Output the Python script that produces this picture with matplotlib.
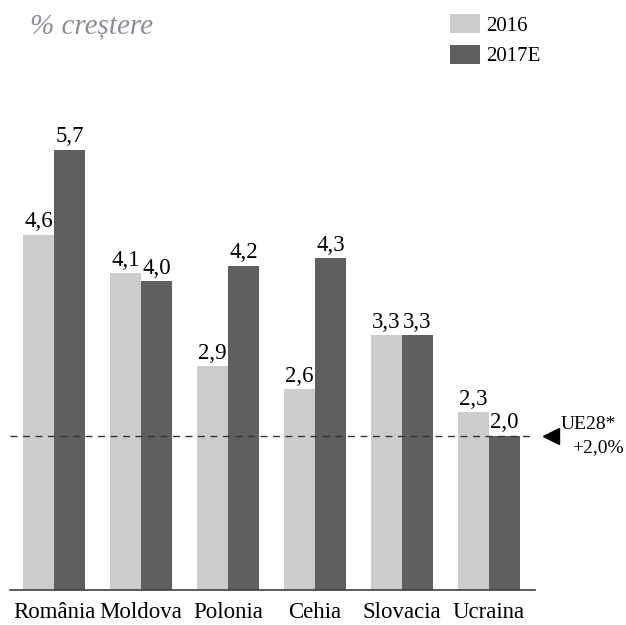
import matplotlib.pyplot as plt
import numpy as np

# data
countries = ['România', 'Moldova', 'Polonia', 'Cehia', 'Slovacia', 'Ucraina']
v2016 = [4.6, 4.1, 2.9, 2.6, 3.3, 2.3]
v2017 = [5.7, 4.0, 4.2, 4.3, 3.3, 2.0]
ue28 = 2.0

plt.rcParams['font.family'] = ['Liberation Serif', 'DejaVu Serif']

fig = plt.figure(figsize=(6.26, 6.25), dpi=100)
# axes placed in pixel terms: baseline at y=590, left edge at x=10
ax = fig.add_axes([10 / 626, 35 / 625, 525 / 626, 502 / 625])

x = np.arange(len(countries))
w = 0.356
light, dark = '#cccccc', '#5f5f5f'
b1 = ax.bar(x - w / 2, v2016, w, color=light, label='2016')
b2 = ax.bar(x + w / 2, v2017, w, color=dark, label='2017E')

for xi, v in zip(x, v2016):
    ax.text(xi - w / 2, v + 0.03, f'{v:.1f}'.replace('.', ','),
            ha='center', va='bottom', fontsize=16.5)
for xi, v in zip(x, v2017):
    ax.text(xi + w / 2, v + 0.03, f'{v:.1f}'.replace('.', ','),
            ha='center', va='bottom', fontsize=16.5)

ax.axhline(ue28, color='#333333', lw=1, ls=(0, (5, 4)), zorder=3)

ax.set_xlim(-0.506, 5.53)
ax.set_ylim(0, 6.5)
ax.set_xticks(x)
ax.set_xticklabels(countries, fontsize=16.5)
ax.tick_params(axis='x', length=0, pad=9)
ax.set_yticks([])
for s in ['top', 'right', 'left']:
    ax.spines[s].set_visible(False)
ax.spines['bottom'].set_color('#404040')
ax.spines['bottom'].set_linewidth(1.2)

# UE28 marker and label
ax.plot([5.71], [ue28], marker='<', color='black', markersize=11, clip_on=False)
ax.text(5.82, ue28 + 0.03, 'UE28*', fontsize=14, ha='left', va='bottom')
ax.text(5.96, ue28 - 0.04, '+2,0%', fontsize=14, ha='left', va='top')

fig.text(30 / 626, 1 - 26 / 625, '% creștere', fontsize=21, style='italic',
         color='#8b8e95', ha='left', va='center')

ax.legend(handles=[b1, b2], loc='upper left', bbox_to_anchor=(431 / 626, 1 + 5 / 625),
          bbox_transform=fig.transFigure, frameon=False, fontsize=15,
          handlelength=1.44, handleheight=1.06, labelspacing=0.43, handletextpad=0.3)

fig.savefig('out.png', dpi=100)
